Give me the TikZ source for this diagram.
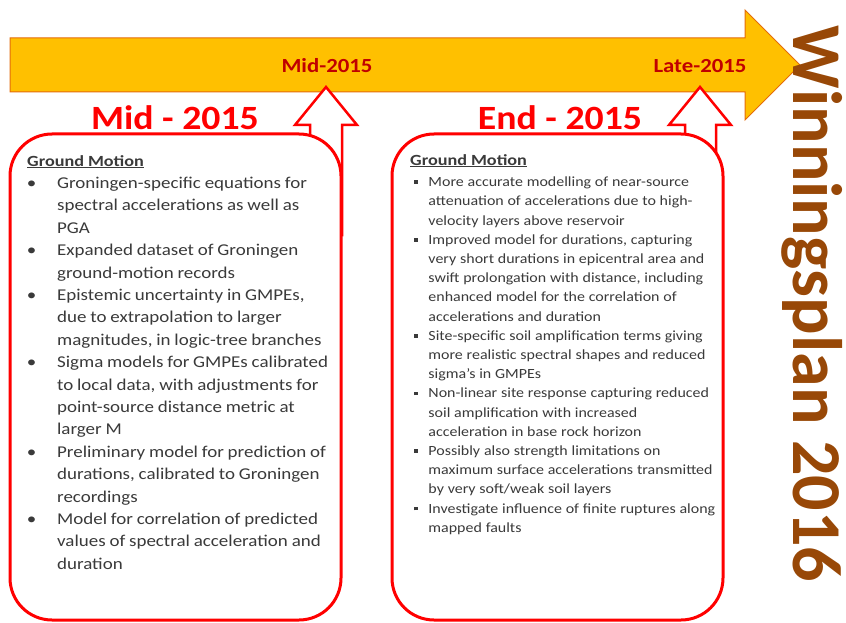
\documentclass[tikz,border=0pt]{standalone}
\usepackage{fontspec}
\setmainfont{Carlito}
\usepackage{enumitem}
\usetikzlibrary{positioning}

\definecolor{lineorange}{HTML}{FFC000}
\definecolor{lineedge}{HTML}{E46C0A}
\definecolor{datered}{HTML}{C00000}
\definecolor{planbrown}{HTML}{984807}
\definecolor{bodygray}{HTML}{3A3A3A}

\newcommand{\sqbullet}{\rule[2.8pt]{3.6pt}{3.6pt}}

\tikzset{
  datelabel/.style={text=datered, xscale=1.14, transform shape,
    font=\bfseries\fontsize{20}{20}\selectfont},
  periodhead/.style={text=red, xscale=1.11, transform shape,
    font=\bfseries\fontsize{34}{34}\selectfont},
  periodbox/.style={draw=red, line width=3pt, fill=white, rounded corners=42pt,
    minimum width=331pt, minimum height=486pt, outer sep=0pt, anchor=north west},
  boxtext/.style={anchor=north west, inner sep=0pt, align=left, text=bodygray,
    text width=300pt, transform shape}
}

\begin{document}
\begin{tikzpicture}[x=1pt, y=-1pt]
\useasboundingbox (0,0) rectangle (846,623);

% timeline arrow
\draw[fill=lineorange, draw=lineedge, line width=1pt] (10,38) -- (745,38) -- (745,10)
  -- (800,65) -- (745,120) -- (745,92) -- (10,92) -- cycle;
\node[datelabel] at (327,66) (mid) {Mid-2015};
\node[datelabel] at (700,66) (late) {Late-2015};

% tips of the up arrows
\coordinate (midtip) at (326,87);
\coordinate (latetip) at (700,87);

\begin{scope}[draw=red, fill=white, line width=2.5pt, line join=miter]
\filldraw (midtip) -- ++(31,38) -- ++(-15,0) -- ++(0,110) -- ++(-32,0) -- ++(0,-110) -- ++(-15,0) -- cycle;
\filldraw (latetip) -- ++(31,38) -- ++(-15,0) -- ++(0,110) -- ++(-31,0) -- ++(0,-110) -- ++(-16,0) -- cycle;
\end{scope}

\node[periodhead] at (175,118) (midhead) {Mid - 2015};
\node[periodhead] at (560,118) (endhead) {End - 2015};

\node[periodbox] at (10,134) (midbox) {};
\node[periodbox] at (392,134) (endbox) {};

% left box
\node[boxtext, xscale=1.15] at (27,155) (midtext) {%
{\bfseries\fontsize{15.5}{18}\selectfont\scalebox{1.02}[1]{\underline{Ground Motion}}\par}
\fontsize{16.5}{22.4}\selectfont
\begin{itemize}[leftmargin=26pt, labelsep=18pt, itemsep=0pt, topsep=0pt, parsep=0pt, partopsep=0pt, label=\textbullet]
\item Groningen-specific equations for\\ spectral accelerations as well as\\ PGA
\item Expanded dataset of Groningen\\ ground-motion records
\item Epistemic uncertainty in GMPEs,\\ due to extrapolation to larger\\ magnitudes, in logic-tree branches
\item Sigma models for GMPEs calibrated\\ to local data, with adjustments for\\ point-source distance metric at\\ larger M
\item Preliminary model for prediction of\\ durations, calibrated to Groningen\\ recordings
\item Model for correlation of predicted\\ values of spectral acceleration and\\ duration
\end{itemize}};

% right box
\node[boxtext, xscale=1.14] at (410,154) (endtext) {%
{\bfseries\fontsize{15.5}{18}\selectfont\scalebox{1.03}[1]{\underline{Ground Motion}}\par}
\vspace{2.5pt}
\fontsize{14}{19.2}\selectfont
\begin{itemize}[leftmargin=16pt, labelsep=9pt, itemsep=0pt, topsep=0pt, parsep=0pt, partopsep=0pt, label=\sqbullet]
\item More accurate modelling of near-source\\ attenuation of accelerations due to high-\\ velocity layers above reservoir
\item Improved model for durations, capturing\\ very short durations in epicentral area and\\ swift prolongation with distance, including\\ enhanced model for the correlation of\\ accelerations and duration
\item Site-specific soil amplification terms giving\\ more realistic spectral shapes and reduced\\ sigma's in GMPEs
\item Non-linear site response capturing reduced\\ soil amplification with increased\\ acceleration in base rock horizon
\item Possibly also strength limitations on\\ maximum surface accelerations transmitted\\ by very soft/weak soil layers
\item Investigate influence of finite ruptures along\\ mapped faults
\end{itemize}};

\node[rotate=-90, text=planbrown, font=\bfseries\fontsize{70}{70}\selectfont] at (812,304) (plan) {Winningsplan 2016};
\end{tikzpicture}
\end{document}
